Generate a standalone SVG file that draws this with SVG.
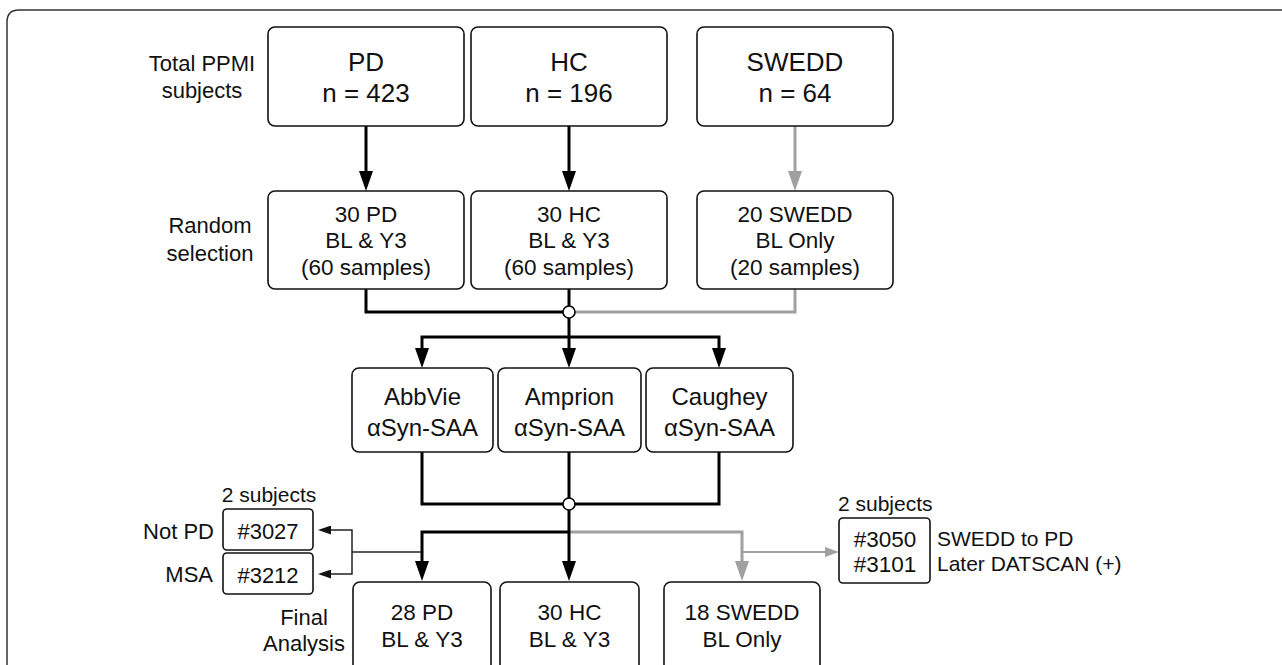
<svg xmlns="http://www.w3.org/2000/svg" width="1282" height="665" viewBox="0 0 1282 665">
<style>
text{font-family:"Liberation Sans",Arial,sans-serif;fill:#111}
.box{fill:#fff;stroke:#111;stroke-width:1.6}
.t26{font-size:26px;text-anchor:middle}
.t24{font-size:24px;text-anchor:middle}
.t22{font-size:22.5px;text-anchor:middle}
.lab{font-size:22px;text-anchor:middle}
.r{text-anchor:end}
.s{font-size:21px}
.n{font-size:21px}
.blk{fill:none;stroke:#000;stroke-width:3}
.gry{fill:none;stroke:#a0a0a0;stroke-width:3}
.thin{fill:none;stroke:#222;stroke-width:1.5}
.thing{fill:none;stroke:#a0a0a0;stroke-width:1.8}
</style>
<defs>
<marker id="ab" markerUnits="userSpaceOnUse" markerWidth="20" markerHeight="14" viewBox="0 0 20 14" refX="10" refY="7" orient="auto"><path d="M0,0 L20,7 L0,14 z" fill="#000"/></marker>
<marker id="ag" markerUnits="userSpaceOnUse" markerWidth="20" markerHeight="14" viewBox="0 0 20 14" refX="10" refY="7" orient="auto"><path d="M0,0 L20,7 L0,14 z" fill="#a0a0a0"/></marker>
<marker id="at" markerUnits="userSpaceOnUse" markerWidth="13" markerHeight="9" viewBox="0 0 13 9" refX="3" refY="4.5" orient="auto"><path d="M0,0 L13,4.5 L0,9 z" fill="#111"/></marker>
<marker id="atg" markerUnits="userSpaceOnUse" markerWidth="14" markerHeight="10" viewBox="0 0 14 10" refX="3" refY="5" orient="auto"><path d="M0,0 L14,5 L0,10 z" fill="#a0a0a0"/></marker>
</defs>
<path id="frame" d="M7,665 V22 Q7,10 19,10 H1282" fill="none" stroke="#333" stroke-width="1.5"/>

<g id="labels">
<text class="lab" x="202" y="71">Total PPMI</text>
<text class="lab" x="202" y="98">subjects</text>
<text class="lab" x="210" y="233">Random</text>
<text class="lab" x="210" y="261">selection</text>
<text class="lab" x="304" y="625">Final</text>
<text class="lab" x="304" y="651">Analysis</text>
</g>

<g id="connectors">
<path class="blk" d="M366,126 V181" marker-end="url(#ab)"/>
<path class="blk" d="M569,126 V181" marker-end="url(#ab)"/>
<path class="gry" d="M795,126 V181" marker-end="url(#ag)"/>
<path class="gry" d="M795,289 V312 H575"/>
<path class="blk" d="M366,289 V312 H563"/>
<path class="blk" d="M569,289 V306"/>
<path class="blk" d="M569,318 V358" marker-end="url(#ab)"/>
<path class="blk" d="M569,337 H422 V358" marker-end="url(#ab)"/>
<path class="blk" d="M569,337 H719 V358" marker-end="url(#ab)"/>
<circle cx="569" cy="312" r="6" fill="#fff" stroke="#000" stroke-width="1.6"/>
<path class="blk" d="M422,452 V504 H719 V452"/>
<path class="blk" d="M569,452 V498"/>
<path class="gry" d="M569,532 H742 V571" marker-end="url(#ag)"/>
<path class="blk" d="M569,532 H422 V571" marker-end="url(#ab)"/>
<path class="blk" d="M569,510 V571" marker-end="url(#ab)"/>
<circle cx="569" cy="504" r="6" fill="#fff" stroke="#000" stroke-width="1.6"/>
<path class="thin" d="M421,552 H352"/>
<path class="thin" d="M352,552 V530 H328" marker-end="url(#at)"/>
<path class="thin" d="M352,552 V574 H328" marker-end="url(#at)"/>
<path class="thing" d="M743,552 H828" marker-end="url(#atg)"/>
</g>

<g id="pd"><rect class="box" x="268" y="27" width="196" height="99" rx="7"/><text class="t26" x="366" y="71">PD</text><text class="t26" x="366" y="102">n = 423</text></g>
<g id="hc"><rect class="box" x="471" y="27" width="196" height="99" rx="7"/><text class="t26" x="569" y="71">HC</text><text class="t26" x="569" y="102">n = 196</text></g>
<g id="swedd"><rect class="box" x="697" y="27" width="196" height="99" rx="7"/><text class="t26" x="795" y="71">SWEDD</text><text class="t26" x="795" y="102">n = 64</text></g>

<g id="pd30"><rect class="box" x="268" y="191" width="196" height="98" rx="7"/><text class="t22" x="366" y="222">30 PD</text><text class="t22" x="366" y="248">BL &amp; Y3</text><text class="t22" x="366" y="275">(60 samples)</text></g>
<g id="hc30"><rect class="box" x="471" y="191" width="196" height="98" rx="7"/><text class="t22" x="569" y="222">30 HC</text><text class="t22" x="569" y="248">BL &amp; Y3</text><text class="t22" x="569" y="275">(60 samples)</text></g>
<g id="swedd20"><rect class="box" x="697" y="191" width="196" height="98" rx="7"/><text class="t22" x="795" y="222">20 SWEDD</text><text class="t22" x="795" y="248">BL Only</text><text class="t22" x="795" y="275">(20 samples)</text></g>

<g id="abbvie"><rect class="box" x="352" y="368" width="141" height="84" rx="7"/><text class="t24" x="422.5" y="405">AbbVie</text><text class="t24" x="422.5" y="436">αSyn-SAA</text></g>
<g id="amprion"><rect class="box" x="498" y="368" width="143" height="84" rx="7"/><text class="t24" x="569.5" y="405">Amprion</text><text class="t24" x="569.5" y="436">αSyn-SAA</text></g>
<g id="caughey"><rect class="box" x="646" y="368" width="147" height="84" rx="7"/><text class="t24" x="719.5" y="405">Caughey</text><text class="t24" x="719.5" y="436">αSyn-SAA</text></g>

<g id="excluded">
<text class="lab s" x="269" y="502">2 subjects</text>
<rect class="box" x="223" y="509" width="90" height="41" rx="4"/>
<text class="lab" x="268" y="539">#3027</text>
<rect class="box" x="223" y="553" width="90" height="41" rx="4"/>
<text class="lab" x="268" y="583">#3212</text>
<text class="lab r" x="214" y="539">Not PD</text>
<text class="lab r" x="213" y="582">MSA</text>
</g>

<g id="converted">
<text class="s" x="838" y="511">2 subjects</text>
<rect class="box" x="839" y="518" width="91" height="65" rx="4"/>
<text class="t22" x="885" y="547">#3050</text>
<text class="t22" x="885" y="572">#3101</text>
<text class="n" x="937" y="546">SWEDD to PD</text>
<text class="n" x="937" y="571">Later DATSCAN (+)</text>
</g>

<g id="pd28"><rect class="box" x="353" y="582" width="138" height="110" rx="7"/><text class="t22" x="422" y="620">28 PD</text><text class="t22" x="422" y="647">BL &amp; Y3</text></g>
<g id="hcf"><rect class="box" x="500" y="582" width="139" height="110" rx="7"/><text class="t22" x="569.5" y="620">30 HC</text><text class="t22" x="569.5" y="647">BL &amp; Y3</text></g>
<g id="sweddf"><rect class="box" x="664" y="582" width="156" height="110" rx="7"/><text class="t22" x="742" y="620">18 SWEDD</text><text class="t22" x="742" y="647">BL Only</text></g>
</svg>
